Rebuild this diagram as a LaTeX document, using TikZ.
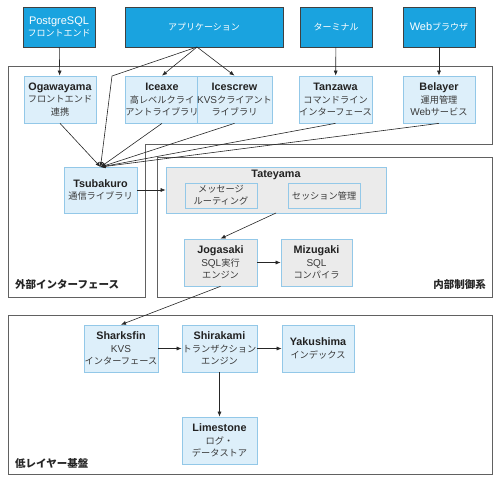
\documentclass[tikz,border=0pt]{standalone}
\usepackage{fontspec}
\setmainfont{Noto Sans CJK JP}
\newfontfamily\latf{Liberation Sans}
\usetikzlibrary{arrows.meta}
\definecolor{topblue}{HTML}{1AA3DF}
\definecolor{lbfill}{HTML}{DDEFFA}
\definecolor{lbdraw}{HTML}{93C8E8}
\definecolor{gfill}{HTML}{EBEBEB}
\definecolor{txt}{HTML}{3A3A3A}
\definecolor{ttlc}{HTML}{222222}
\newcommand{\fsz}[2]{\fontsize{#1}{#2}\selectfont}
\newcommand{\lat}[1]{{\latf\fontsize{10}{12.5}\selectfont #1}}
\newcommand{\latL}[1]{{\latf\fontsize{11}{12.5}\selectfont #1}}
\newcommand{\ttl}[1]{{\color{ttlc}\latf\bfseries\fontsize{10.8}{12.5}\selectfont #1}}
\begin{document}
\begin{tikzpicture}[x=1pt,y=-1pt,
  topbox/.style={draw=black!75, line width=0.6pt, fill=topblue, text=white, minimum width=72pt, minimum height=40pt, inner sep=0pt, align=center, font=\fsz{9}{12.5}},
  lbox/.style={draw=lbdraw, line width=0.7pt, fill=lbfill, text=txt, minimum width=73pt, minimum height=47pt, inner sep=0pt, align=center, font=\fsz{9.2}{12.5}},
  gbox/.style={lbox, fill=gfill},
  sbox/.style={draw=lbdraw, line width=0.7pt, fill=gfill, text=txt, minimum width=72pt, minimum height=25pt, inner sep=0pt, align=center, font=\fsz{9.2}{12}},
  frame/.style={draw=black!62, line width=0.8pt},
  arr/.style={-{Latex[length=5pt,width=4pt]}, line width=0.6pt, draw=black!85},
  seclabel/.style={font=\fsz{10.5}{12}\bfseries, text=black!85, inner sep=0pt}
]
\useasboundingbox (0,0) rectangle (500,482);

% frames
\draw[frame] (8,66) -- (492,66) -- (492,144) -- (145,144) -- (145,297) -- (8,297) -- cycle;
\draw[frame] (157,157) rectangle (492,297);
\draw[frame] (8,315) rectangle (492,474);

\node[seclabel, anchor=west] (lblext) at (15,285) {外部インターフェース};
\node[seclabel, anchor=east] (lblint) at (486,285) {内部制御系};
\node[seclabel, anchor=west] (lbllow) at (15,463) {低レイヤー基盤};

% top boxes
\node[topbox] (pg) at (59,27) {\latL{PostgreSQL}\\フロントエンド};
\node[topbox, minimum width=158pt] (app) at (204,27) {アプリケーション};
\node[topbox] (term) at (336,27) {ターミナル};
\node[topbox] (web) at (439,27) {\latL{Web}ブラウザ};

% external interface row
\node[lbox, minimum width=72pt] (ogawa) at (60,99.5) {\ttl{Ogawayama}\\フロントエンド\\連携};
\node[lbox, minimum width=74pt] (iceaxe) at (162,99.5) {\ttl{Iceaxe}\\高レベルクライ\\アントライブラリ};
\node[lbox, minimum width=71pt] (icescrew) at (234.5,99.5) {\ttl{Icescrew}\\\lat{KVS}クライアント\\ライブラリ};
\node[lbox] (tanzawa) at (335.5,99.5) {\ttl{Tanzawa}\\コマンドライン\\インターフェース};
\node[lbox, minimum width=72pt] (belayer) at (439,99.5) {\ttl{Belayer}\\運用管理\\\lat{Web}サービス};
\node[lbox, minimum height=46pt] (tsub) at (100.5,190) {\ttl{Tsubakuro}\\通信ライブラリ};

% internal control
\node[gbox, minimum width=220pt, minimum height=46pt] (tate) at (276,190) {};
\node[inner sep=0pt] (tatet) at (276,175) {\ttl{Tateyama}};
\node[sbox] (msg) at (221,195.5) {メッセージ\\ルーティング};
\node[sbox] (sess) at (324,195.5) {セッション管理};
\node[gbox] (joga) at (220.5,262.5) {\ttl{Jogasaki}\\\lat{SQL}実行\\エンジン};
\node[gbox, minimum width=71pt] (mizu) at (316.5,262.5) {\ttl{Mizugaki}\\\lat{SQL}\\コンパイラ};

% low layer
\node[lbox, minimum width=74pt] (shark) at (121,348.5) {\ttl{Sharksfin}\\\lat{KVS}\\インターフェース};
\node[lbox, minimum width=75pt] (shira) at (219.5,348.5) {\ttl{Shirakami}\\トランザクション\\エンジン};
\node[lbox, minimum width=72pt] (yaku) at (318,348.5) {\ttl{Yakushima}\\インデックス};
\node[lbox, minimum width=75pt] (lime) at (219.5,440.5) {\ttl{Limestone}\\ログ・\\データストア};

% connectors
\coordinate (appS) at (197,47);
\coordinate (bend) at (112,76);
\coordinate (tsT) at (100.5,167);
\coordinate (tateS) at (276,213);

\draw[arr] (pg) -- (ogawa);
\draw[arr] (term) -- (tanzawa);
\draw[arr] (web) -- (belayer);
\draw[arr] (appS) -- (iceaxe.north);
\draw[arr] (appS) -- (icescrew.north);
\draw[arr] (appS) -- (bend) -- (tsT);
\draw[arr] (ogawa.south) -- (tsT);
\draw[arr] (iceaxe.south) -- (tsT);
\draw[arr] (icescrew.south) -- (tsT);
\draw[arr] (tanzawa.south) -- (tsT);
\draw[arr] (belayer.south) -- (tsT);
\draw[arr] (tsub) -- (tate);
\draw[arr] (tateS) -- (joga.north);
\draw[arr] (joga) -- (mizu);
\draw[arr] (joga.south) -- (shark.north);
\draw[arr] (shark) -- (shira);
\draw[arr] (shira) -- (yaku);
\draw[arr] (shira) -- (lime);
\end{tikzpicture}
\end{document}
